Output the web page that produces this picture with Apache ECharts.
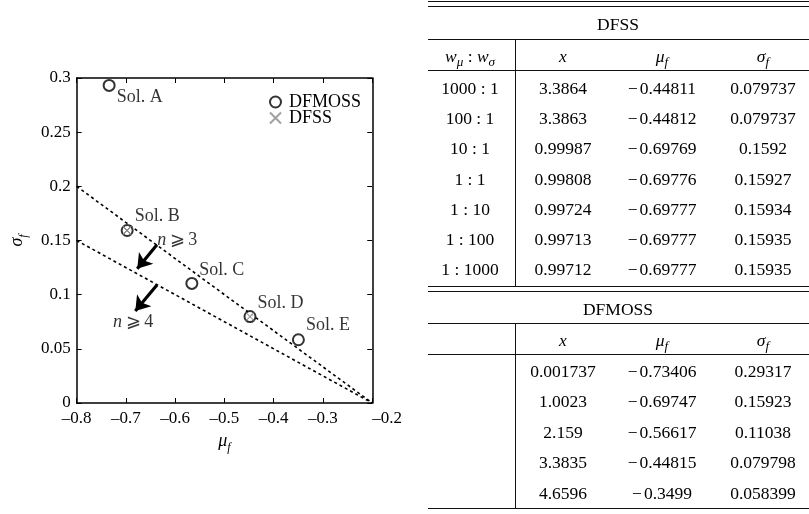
<!DOCTYPE html>
<html>
<head>
<meta charset="utf-8">
<title>DFSS vs DFMOSS</title>
<script src="https://cdn.jsdelivr.net/npm/echarts@6/dist/echarts.min.js"></script>
<style>
  html, body { margin: 0; padding: 0; background: #fff; }
  #page { position: relative; width: 809px; height: 514px; overflow: hidden; }
  #chart { position: absolute; left: 0; top: 0; width: 405px; height: 514px; }
  #table { position: absolute; left: 0; top: 0; width: 809px; height: 514px;
           font-family: 'Liberation Serif', serif; font-size: 17.5px; color: #000; }
  .cell { position: absolute; transform: translate(-50%, -50%); white-space: nowrap; line-height: 1; }
  .hl { position: absolute; left: 428px; width: 381px; height: 1px; background: #111; }
  .vl { position: absolute; left: 515px; width: 1px; background: #111; }
  .mn { margin-right: 2px; }
  sub { font-size: 75%; vertical-align: -0.3em; line-height: 0; }
</style>
</head>
<body>
<div id="page">
  <div id="chart"></div>
  <div id="table"></div>
</div>
<script>
// DFSS runs, one per weight ratio
var dfssWeights = ['1000 : 1', '100 : 1', '10 : 1', '1 : 1', '1 : 10', '1 : 100', '1 : 1000'];
var dfssX = ['3.3864', '3.3863', '0.99987', '0.99808', '0.99724', '0.99713', '0.99712'];
var dfssMu = [-0.44811, -0.44812, -0.69769, -0.69776, -0.69777, -0.69777, -0.69777];
var dfssSigma = [0.079737, 0.079737, 0.1592, 0.15927, 0.15934, 0.15935, 0.15935];

// DFMOSS pareto solutions A..E
var solLabels = ['Sol. A', 'Sol. B', 'Sol. C', 'Sol. D', 'Sol. E'];
var dfmossX = ['0.001737', '1.0023', '2.159', '3.3835', '4.6596'];
var dfmossMu = [-0.73406, -0.69747, -0.56617, -0.44815, -0.3499];
var dfmossSigma = [0.29317, 0.15923, 0.11038, 0.079798, 0.058399];

// dashed limit lines (n >= 3, n >= 4)
var line3Mu = [-0.8, -0.2];
var line3Sigma = [0.2, 0];
var line4Mu = [-0.8, -0.2];
var line4Sigma = [0.15, 0];

// arrows and their notes
var arrowFromMu = [-0.637, -0.637];
var arrowFromSigma = [0.146, 0.109];
var arrowToMu = [-0.677, -0.681];
var arrowToSigma = [0.124, 0.085];
var noteText = ['{i|n}\u2009⩾\u20093', '{i|n}\u2009⩾\u20094'];
var noteMu = [-0.6366, -0.7263];
var noteSigma = [0.1505, 0.0748];

var FONT = 'Liberation Serif';

function minus(v) {
  return v < 0 ? '<span class="mn">\u2212</span>' + String(Math.abs(v)) : String(v);
}

// ---------- table ----------
var tbl = document.getElementById('table');
function cell(x, y, html) {
  var d = document.createElement('div');
  d.className = 'cell';
  d.style.left = x + 'px';
  d.style.top = y + 'px';
  d.innerHTML = html;
  tbl.appendChild(d);
}
function hline(y) {
  var d = document.createElement('div');
  d.className = 'hl';
  d.style.top = y + 'px';
  tbl.appendChild(d);
}
function vline(y1, y2) {
  var d = document.createElement('div');
  d.className = 'vl';
  d.style.top = y1 + 'px';
  d.style.height = (y2 - y1) + 'px';
  tbl.appendChild(d);
}
var colX = [470, 563, 662, 763];
var hdr = ['<i>x</i>', '<i>μ</i><sub><i>f</i></sub>', '<i>σ</i><sub><i>f</i></sub>'];

hline(1); hline(6);
cell(618, 25, 'DFSS');
hline(39);
cell(colX[0], 57, '<i>w</i><sub><i>μ</i></sub> : <i>w</i><sub><i>σ</i></sub>');
hdr.forEach(function (h, i) { cell(colX[i + 1], 57, h); });
hline(70);
dfssWeights.forEach(function (w, i) {
  var y = 89 + i * 30.2;
  cell(colX[0], y, w);
  cell(colX[1], y, dfssX[i]);
  cell(colX[2], y, minus(dfssMu[i]));
  cell(colX[3], y, minus(dfssSigma[i]));
});
vline(39, 287);
hline(286); hline(291);
cell(618, 310, 'DFMOSS');
hline(323);
hdr.forEach(function (h, i) { cell(colX[i + 1], 341, h); });
hline(354);
dfmossX.forEach(function (x, i) {
  var y = 372 + i * 30.4;
  cell(colX[1], y, x);
  cell(colX[2], y, minus(dfmossMu[i]));
  cell(colX[3], y, minus(dfmossSigma[i]));
});
vline(323, 508);
hline(508);

// ---------- chart ----------
var chart = echarts.init(document.getElementById('chart'));

function tick(v) {
  return String(+v.toFixed(2)).replace('-', '\u2013');
}

var axisLine = { onZero: false, lineStyle: { color: '#000', width: 1.5 } };
var axisTick = { inside: true, length: 5, lineStyle: { color: '#000', width: 1 } };
var tickLabel = { fontFamily: FONT, fontSize: 17, color: '#000', formatter: tick };
var nameRich = {
  a: { fontFamily: FONT, fontSize: 18, fontStyle: 'italic', color: '#000', lineHeight: 22, verticalAlign: 'top' },
  b: { fontFamily: FONT, fontSize: 12, fontStyle: 'italic', color: '#000', lineHeight: 22, verticalAlign: 'bottom' }
};

var solOffset = [[0, 12], [0, -14], [0, -13], [0, -13], [0, -14]];

chart.setOption({
  animation: false,
  textStyle: { fontFamily: FONT },
  grid: { left: 73, top: 78, right: 31, bottom: 111 },
  legend: {
    data: ['DFMOSS', 'DFSS'],
    orient: 'vertical',
    left: 264,
    top: 88,
    itemWidth: 11,
    itemHeight: 11,
    itemGap: -2,
    textStyle: { fontFamily: FONT, fontSize: 18, color: '#000', lineHeight: 16, padding: [0, 0, 0, 3] }
  },
  xAxis: [{
    type: 'value', min: -0.8, max: -0.2, interval: 0.1, position: 'bottom',
    axisLine: axisLine, axisTick: axisTick, splitLine: { show: false },
    axisLabel: Object.assign({ margin: 7, alignMaxLabel: 'left' }, tickLabel),
    name: '{a|μ}{b|f}', nameLocation: 'middle', nameGap: 28,
    nameTextStyle: { rich: nameRich }
  }, {
    type: 'value', min: -0.8, max: -0.2, interval: 0.1, position: 'top',
    axisLine: axisLine, axisTick: axisTick, splitLine: { show: false },
    axisLabel: { show: false }
  }],
  yAxis: [{
    type: 'value', min: 0, max: 0.3, interval: 0.05, position: 'left',
    axisLine: axisLine, axisTick: axisTick, splitLine: { show: false },
    axisLabel: Object.assign({ margin: 6 }, tickLabel),
    name: '{a|σ}{b|f}', nameLocation: 'middle', nameGap: 46, nameRotate: 90,
    nameTextStyle: { rich: nameRich }
  }, {
    type: 'value', min: 0, max: 0.3, interval: 0.05, position: 'right',
    axisLine: axisLine, axisTick: axisTick, splitLine: { show: false },
    axisLabel: { show: false }
  }],
  series: [
    {
      type: 'line', symbol: 'none', silent: true,
      data: line3Mu.map(function (m, i) { return [m, line3Sigma[i]]; }),
      lineStyle: { color: '#000', width: 1.6, type: [3, 3] }
    },
    {
      type: 'line', symbol: 'none', silent: true,
      data: line4Mu.map(function (m, i) { return [m, line4Sigma[i]]; }),
      lineStyle: { color: '#000', width: 1.6, type: [3, 3] }
    },
    {
      type: 'lines', coordinateSystem: 'cartesian2d', silent: true,
      symbol: ['none', 'arrow'], symbolSize: 14,
      lineStyle: { color: '#000', width: 3.2, opacity: 1 },
      data: arrowFromMu.map(function (m, i) {
        return { coords: [[m, arrowFromSigma[i]], [arrowToMu[i], arrowToSigma[i]]] };
      })
    },
    {
      type: 'scatter', symbolSize: 0, silent: true,
      data: noteMu.map(function (m, i) { return { value: [m, noteSigma[i]], name: noteText[i] }; }),
      label: {
        show: true, position: [0, 0], align: 'left', verticalAlign: 'middle',
        formatter: function (p) { return p.name; },
        fontFamily: FONT, fontSize: 18, color: '#000',
        rich: { i: { fontFamily: FONT, fontSize: 18, fontStyle: 'italic', color: '#000' } }
      }
    },
    {
      name: 'DFMOSS', type: 'scatter', symbol: 'emptyCircle', symbolSize: 11, z: 3,
      itemStyle: { color: '#000', borderColor: '#000', borderWidth: 1.2 },
      data: dfmossMu.map(function (m, i) {
        return {
          value: [m, dfmossSigma[i]], name: solLabels[i],
          label: { offset: solOffset[i] }
        };
      }),
      label: {
        show: true, position: 'right', distance: 1,
        formatter: function (p) { return p.name; },
        fontFamily: FONT, fontSize: 18, color: '#000'
      }
    },
    {
      name: 'DFSS', type: 'scatter', symbol: 'path://M0,0L10,10M10,0L0,10', symbolSize: 8, z: 4,
      itemStyle: { color: 'rgba(0,0,0,0)', borderColor: '#888', borderWidth: 1 },
      data: dfssMu.map(function (m, i) { return [m, dfssSigma[i]]; })
    }
  ]
});
</script>
</body>
</html>
